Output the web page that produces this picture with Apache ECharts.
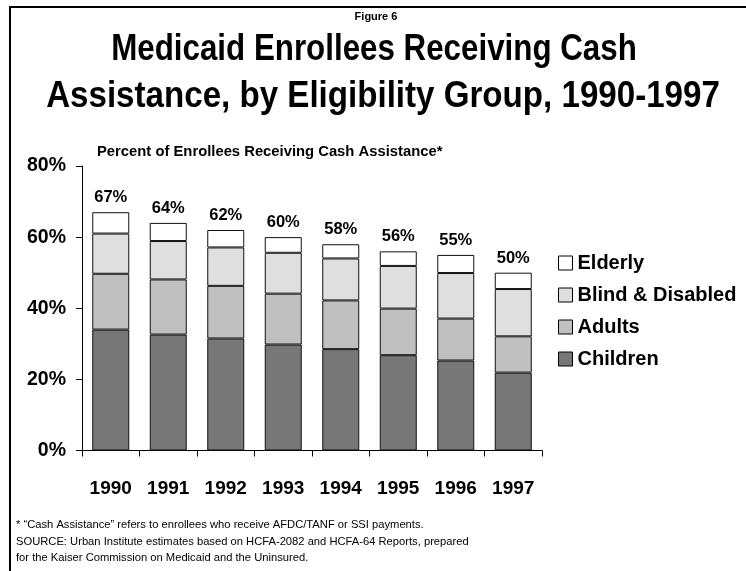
<!DOCTYPE html>
<html>
<head>
<meta charset="utf-8">
<script src="https://cdn.jsdelivr.net/npm/echarts@6/dist/echarts.min.js"></script>
<style>
  html, body { margin: 0; padding: 0; background: #fff; }
  #chart { width: 746px; height: 571px; }
</style>
</head>
<body>
<div id="chart"></div>
<script>
// Medicaid enrollees receiving cash assistance, share of all enrollees (%)
const years = ['1990', '1991', '1992', '1993', '1994', '1995', '1996', '1997'];
const children = [34.0, 32.6, 31.5, 29.8, 28.5, 26.8, 25.3, 21.9];
const adults = [15.7, 15.5, 14.8, 14.3, 13.7, 13.1, 11.8, 10.2];
const blindDisabled = [11.3, 10.8, 10.8, 11.5, 11.8, 12.0, 12.8, 13.3];
const elderly = [6.0, 5.1, 4.9, 4.4, 4.0, 4.1, 5.1, 4.6];
const yTicks = [0, 20, 40, 60, 80];

const FONT = '"Liberation Sans", Arial, Helvetica, sans-serif';

// Stack totals, shown above each column
const totals = years.map((_, i) => children[i] + adults[i] + blindDisabled[i] + elderly[i]);

const chart = echarts.init(document.getElementById('chart'), null, { renderer: 'canvas' });

const barBase = {
  type: 'bar',
  stack: 'enrollees',
  barWidth: 37,
  emphasis: { disabled: true },
  animation: false
};

function barSeries(name, data, color, extra) {
  return Object.assign({}, barBase, {
    name: name,
    data: data,
    itemStyle: { color: color, borderColor: '#111', borderWidth: 1 }
  }, extra || {});
}

const option = {
  backgroundColor: '#fff',
  animation: false,
  textStyle: { fontFamily: FONT, color: '#000' },
  grid: { left: 82, right: 204, top: 166, bottom: 120.5, containLabel: false },
  legend: {
    orient: 'vertical',
    left: 558,
    top: 253,
    padding: 0,
    icon: 'rect',
    itemWidth: 14,
    itemHeight: 14,
    itemGap: 12,
    data: ['Elderly', 'Blind & Disabled', 'Adults', 'Children'],
    selectedMode: false,
    itemStyle: { borderColor: '#000', borderWidth: 1 },
    textStyle: { fontFamily: FONT, fontWeight: 'bold', fontSize: 20, color: '#000' }
  },
  xAxis: {
    type: 'category',
    data: years,
    axisLine: { lineStyle: { color: '#000', width: 1 } },
    axisTick: { show: true, length: 6, alignWithLabel: false, lineStyle: { color: '#000' } },
    axisLabel: { fontFamily: FONT, fontWeight: 'bold', fontSize: 19, color: '#000', margin: 29 }
  },
  yAxis: {
    type: 'value',
    min: yTicks[0],
    max: yTicks[yTicks.length - 1],
    interval: yTicks[1] - yTicks[0],
    splitLine: { show: false },
    axisLine: { show: true, lineStyle: { color: '#000', width: 1 } },
    axisTick: { show: true, length: 6, lineStyle: { color: '#000' } },
    axisLabel: { fontFamily: FONT, fontWeight: 'bold', fontSize: 19.5, color: '#000', margin: 16, formatter: '{value}%' }
  },
  series: [
    barSeries('Children', children, '#777777'),
    barSeries('Adults', adults, '#c0c0c0'),
    barSeries('Blind & Disabled', blindDisabled, '#dfdfdf'),
    barSeries('Elderly', elderly, '#ffffff', {
      label: {
        show: true,
        position: 'top',
        distance: 6,
        fontFamily: FONT,
        fontWeight: 'bold',
        fontSize: 16.5,
        color: '#000',
        formatter: p => Math.round(totals[p.dataIndex]) + '%'
      }
    })
  ],
  graphic: [
    // frame edges
    { type: 'line', shape: { x1: 10, y1: 7, x2: 746, y2: 7 }, style: { stroke: '#000', lineWidth: 2 } },
    { type: 'line', shape: { x1: 10, y1: 6, x2: 10, y2: 571 }, style: { stroke: '#000', lineWidth: 2 } },
    { type: 'text', x: 376, y: 17, style: { text: 'Figure 6', font: 'bold 11px ' + FONT, fill: '#000', align: 'center', verticalAlign: 'middle' } },
    { type: 'text', x: 374, y: 50, scaleX: 0.87,
      style: { text: 'Medicaid Enrollees Receiving Cash', font: 'bold 36px ' + FONT, fill: '#000', align: 'center', verticalAlign: 'middle' } },
    { type: 'text', x: 383, y: 97, scaleX: 0.92,
      style: { text: 'Assistance, by Eligibility Group, 1990-1997', font: 'bold 36px ' + FONT, fill: '#000', align: 'center', verticalAlign: 'middle' } },
    { type: 'text', x: 97, y: 152, style: { text: 'Percent of Enrollees Receiving Cash Assistance*', font: 'bold 14.8px ' + FONT, fill: '#000', align: 'left', verticalAlign: 'middle' } },
    { type: 'text', x: 16, y: 525, style: { text: '* \u201CCash Assistance\u201D refers to enrollees who receive AFDC/TANF or SSI payments.', font: '11.2px ' + FONT, fill: '#000', verticalAlign: 'middle' } },
    { type: 'text', x: 16, y: 541.5, style: { text: 'SOURCE: Urban Institute estimates based on HCFA-2082 and HCFA-64 Reports, prepared', font: '11.2px ' + FONT, fill: '#000', verticalAlign: 'middle' } },
    { type: 'text', x: 16, y: 558, style: { text: 'for the Kaiser Commission on Medicaid and the Uninsured.', font: '11.2px ' + FONT, fill: '#000', verticalAlign: 'middle' } }
  ]
};

chart.setOption(option);
</script>
</body>
</html>
